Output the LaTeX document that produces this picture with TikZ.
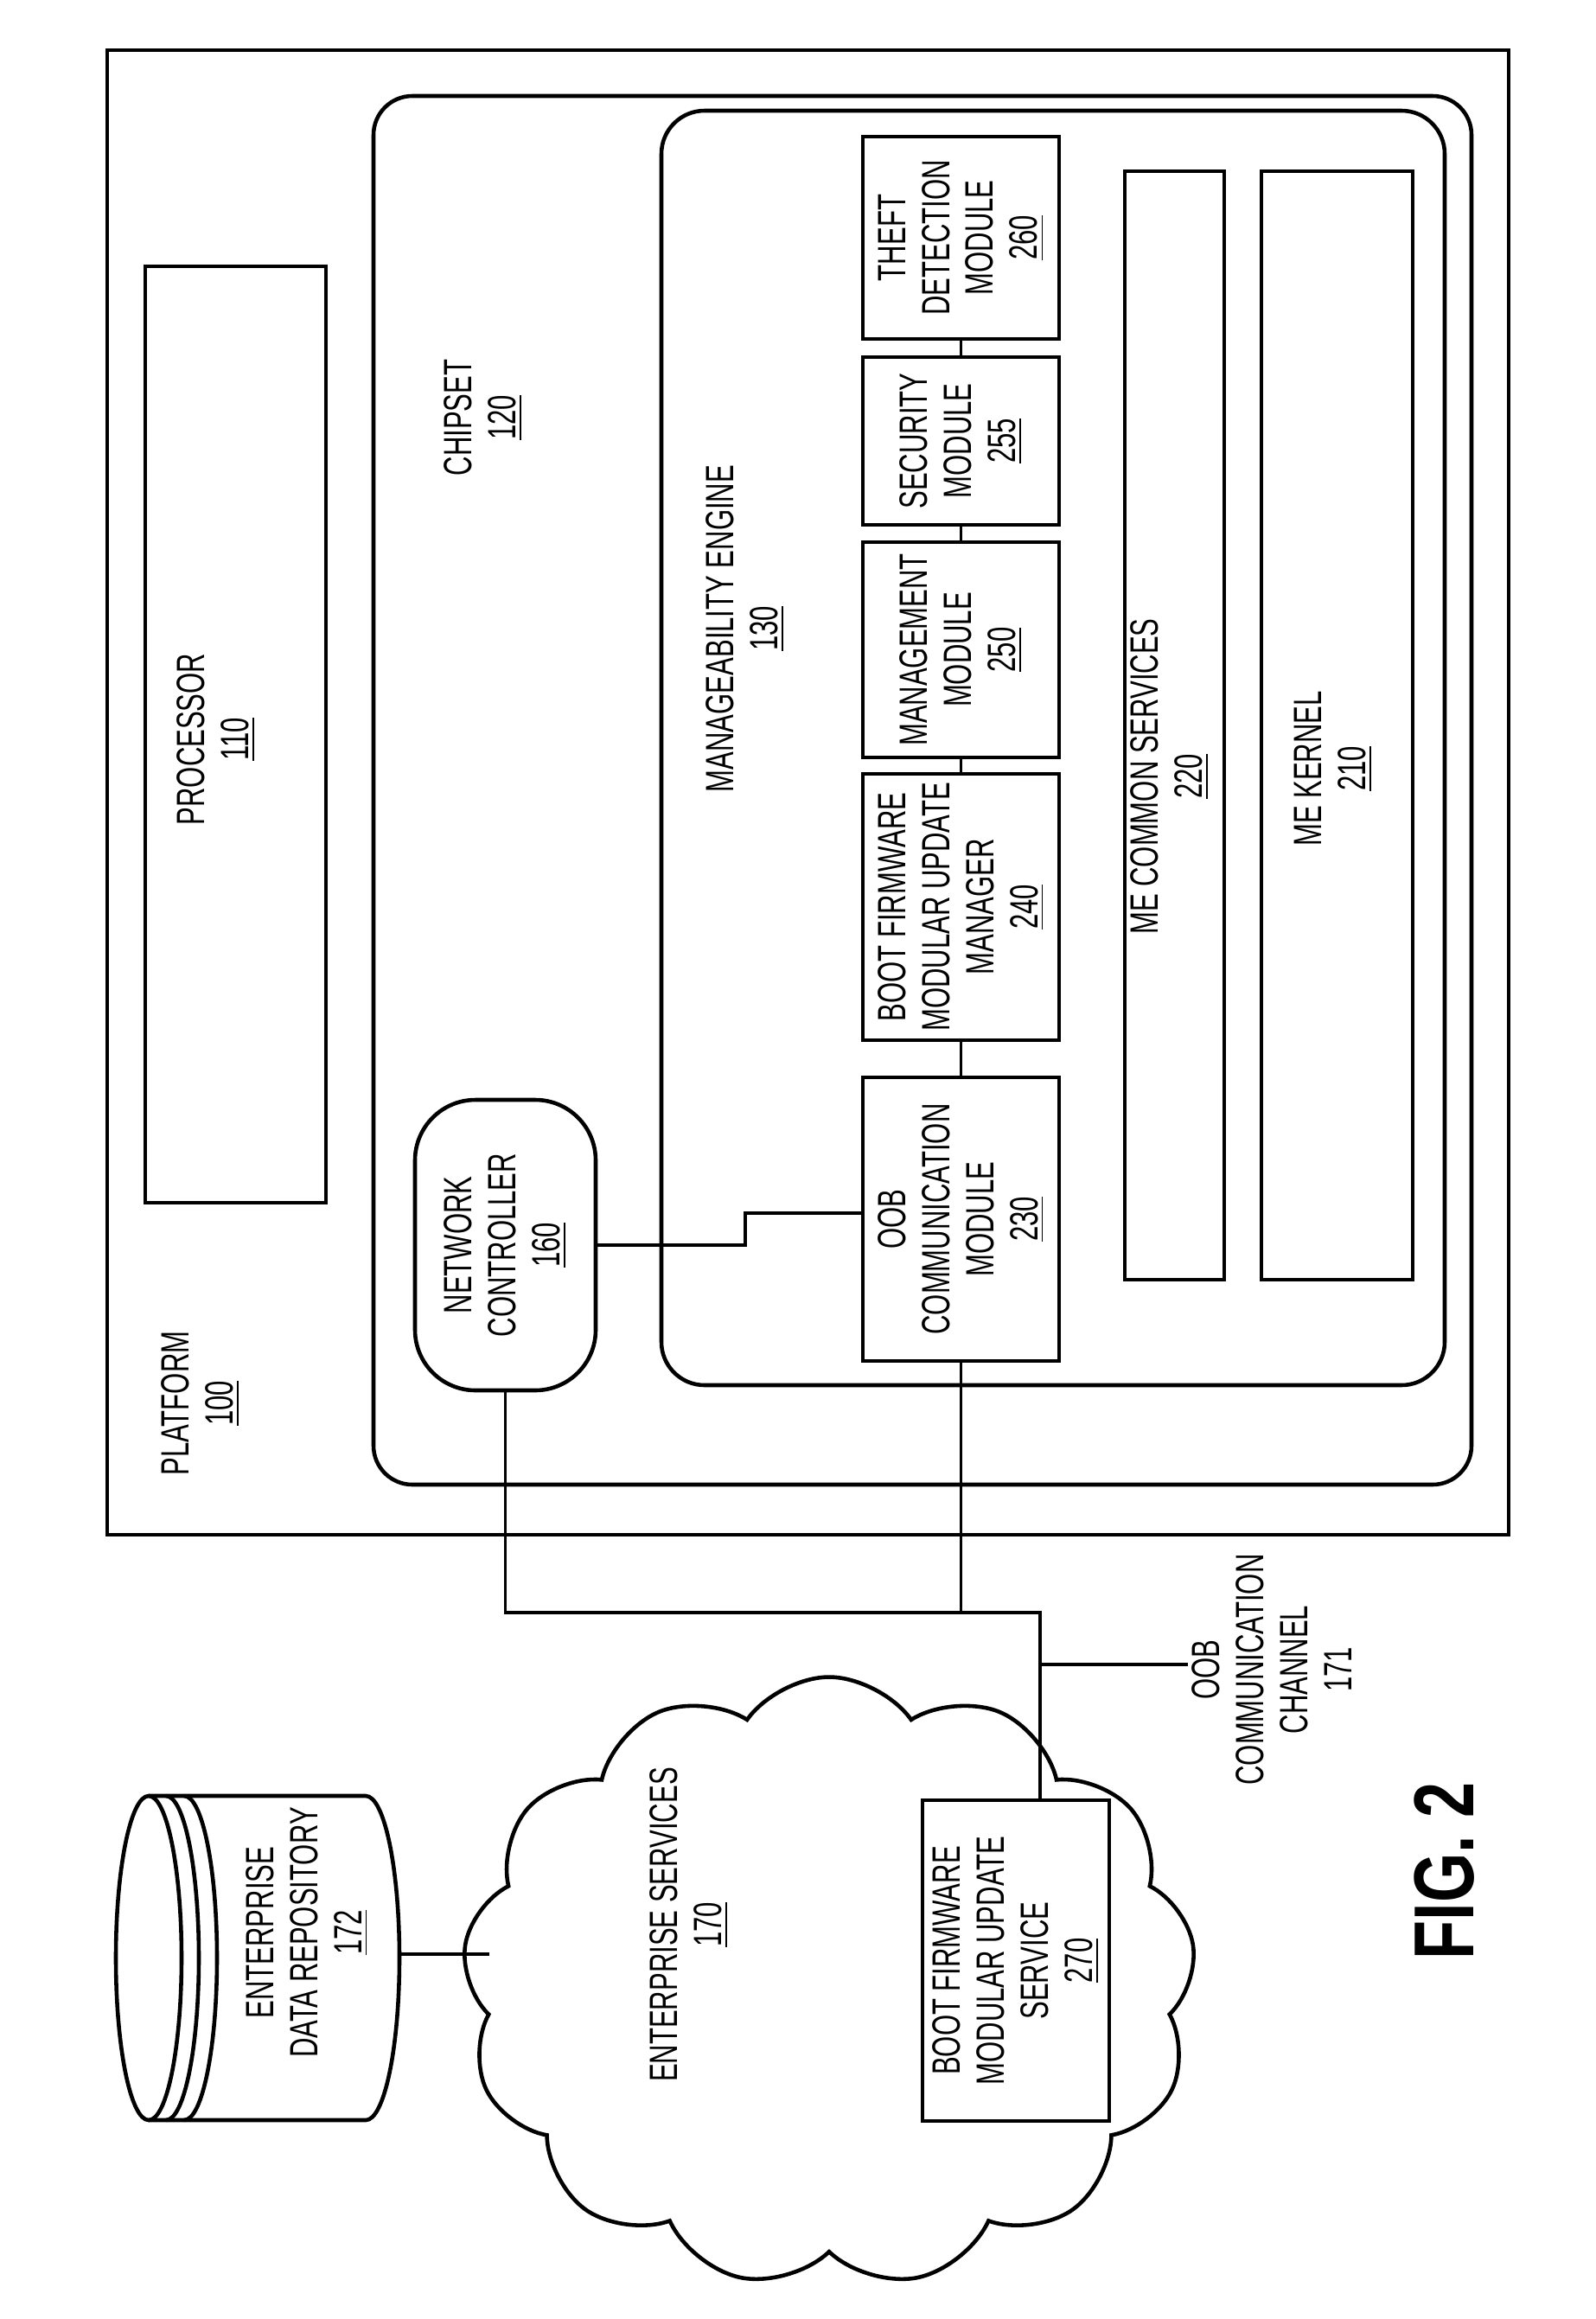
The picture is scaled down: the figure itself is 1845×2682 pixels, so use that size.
\documentclass[tikz,border=0pt]{standalone}
\usepackage{fontspec}
\setmainfont[FakeStretch=0.68]{Liberation Sans}
\newfontfamily\figfont[FakeStretch=0.75]{Liberation Sans}
\usetikzlibrary{fit,shapes.symbols}
\tikzset{
  box/.style={draw, line width=1.3pt, inner sep=0pt},
  rbox/.style={box, rounded corners=#1},
  lbl/.style={rotate=90, align=center, font=\fontsize{13}{14.5}\selectfont, inner sep=1pt},
  wire/.style={line width=0.9pt},
}
\begin{document}
\begin{tikzpicture}[x=0.1mm, y=-0.1mm]
\useasboundingbox (0,0) rectangle (1845,2682);
% containers
\node[box, fit={(124,58)(1745,1775)}] (platform) {};
\node[rbox=4.5mm, fit={(432,111)(1702,1717)}] (chipset) {};
\node[rbox=5mm, fit={(765,128)(1671,1602)}] (me) {};
\node[box, fit={(168,308)(377,1391)}] (proc) {};
\node[rbox=7mm, fit={(480,1272)(689,1608)}] (nc) {};
% modules
\node[box, fit={(998,158)(1225,392)}] (theft) {};
\node[box, fit={(998,413)(1225,607)}] (sec) {};
\node[box, fit={(998,627)(1225,876)}] (mgmt) {};
\node[box, fit={(998,895)(1225,1203)}] (bfm) {};
\node[box, fit={(998,1246)(1225,1574)}] (oob) {};
\node[box, fit={(1301,198)(1416,1480)}] (mecs) {};
\node[box, fit={(1459,198)(1634,1480)}] (mek) {};
\node[cloud, draw, line width=1.3pt, cloud puffs=13, cloud puff arc=110, cloud ignores aspect, minimum width=84.8mm, minimum height=70.5mm, inner sep=0pt] (cloud) at (959,2292) {};
\node[box, fill=white, fit={(1067,2082)(1283,2453)}] (svc) {};
% labels
\node[lbl] (lplat) at (232,1623) {PLATFORM\\\underline{100}};
\node[lbl] (lproc) at (250,855) {PROCESSOR\\\underline{110}};
\node[lbl] (lchip) at (559,483) {CHIPSET\\\underline{120}};
\node[lbl] (lme) at (862,727) {MANAGEABILITY ENGINE\\\underline{130}};
\node[lbl] at (nc.center) {NETWORK\\CONTROLLER\\\underline{160}};
\node[lbl] at (theft.center) {THEFT\\DETECTION\\MODULE\\\underline{260}};
\node[lbl] at (sec.center) {SECURITY\\MODULE\\\underline{255}};
\node[lbl] at (mgmt.center) {MANAGEMENT\\MODULE\\\underline{250}};
\node[lbl] at (bfm.center) {BOOT FIRMWARE\\MODULAR UPDATE\\MANAGER\\\underline{240}};
\node[lbl] at (oob.center) {OOB\\COMMUNICATION\\MODULE\\\underline{230}};
\node[lbl] (lmecs) at (1353,898) {ME COMMON SERVICES\\\underline{220}};
\node[lbl] (lmek) at (1542,889) {ME KERNEL\\\underline{210}};
\node[lbl] at (svc.center) {BOOT FIRMWARE\\MODULAR UPDATE\\SERVICE\\\underline{270}};
\node[lbl] (lent) at (797,2226) {ENTERPRISE SERVICES\\\underline{170}};
\node[lbl] (chl) at (1471,1931) {OOB\\COMMUNICATION\\CHANNEL\\171};
\node[rotate=90, font=\figfont\bfseries\fontsize{28}{30}\selectfont] (fig) at (1671,2164) {FIG. 2};
% cylinder
\begin{scope}[line width=1.3pt]
\draw (172,2077) -- (423,2077) arc[start angle=-90, end angle=90, x radius=39, y radius=187.5] -- (172,2452);
\draw (172,2264.5) ellipse[x radius=38, y radius=187.5];
\draw (192,2077) arc[start angle=-90, end angle=90, x radius=38, y radius=187.5];
\draw (213,2077) arc[start angle=-90, end angle=90, x radius=38, y radius=187.5];
\end{scope}
\node[lbl] (lcyl) at (355,2235) {ENTERPRISE\\DATA REPOSITORY\\\underline{172}};
\coordinate (cylR) at (462,2260);
\coordinate (cldL) at (566,2260);
% connectors
\draw[wire] (theft.south) -- (sec.north);
\draw[wire] (sec.south) -- (mgmt.north);
\draw[wire] (mgmt.south) -- (bfm.north);
\draw[wire] (bfm.south) -- (oob.north);
\coordinate (j1) at (862,1403);
\draw[wire] (nc.east) -| (j1) -- (j1 -| oob.west);
\coordinate (bus) at (1203,1865);
\draw[wire] (nc.south) |- (bus) -- (bus |- svc.north);
\draw[wire] (oob.south) -- (oob.south |- bus);
\coordinate (tk) at (1203,1925);
\draw[wire] (tk) -- (tk -| chl.north);
\draw[wire] (cylR) -- (cldL);
\end{tikzpicture}
\end{document}
